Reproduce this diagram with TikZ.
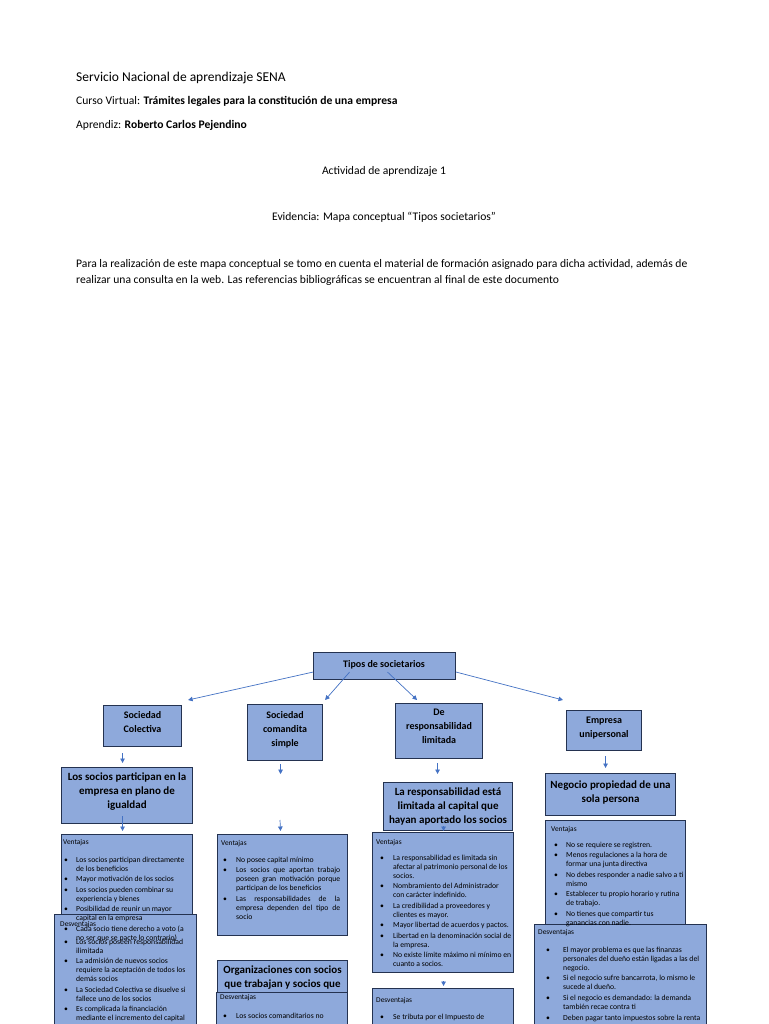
\documentclass[tikz,border=0pt]{standalone}
\usepackage{fontspec}
\setmainfont{Carlito}
\usetikzlibrary{calc,arrows.meta}
\definecolor{boxfill}{HTML}{8EA9DB}
\definecolor{boxline}{HTML}{243250}
\definecolor{arrowblue}{HTML}{4472C4}
\newcommand{\blist}[2]{\begin{tabular}[t]{@{}p{#1}@{}l@{}}#2\end{tabular}}
\newcommand{\J}[1]{\makebox[104pt][s]{#1}}
\tikzset{
  box/.style={draw=boxline, fill=boxfill, line width=1.1pt, rectangle, inner sep=0pt, anchor=north west},
  ttl/.style={font=\bfseries\fontsize{10}{14}\selectfont, align=center, anchor=north, inner sep=0pt},
  ttlb/.style={font=\bfseries\fontsize{11}{14}\selectfont, align=center, anchor=north, inner sep=0pt},
  lst/.style={font=\fontsize{7.7}{9}\selectfont, anchor=base west, inner sep=0pt},
  lbl/.style={font=\fontsize{7.4}{9}\selectfont, anchor=base west, inner sep=0pt},
  arr/.style={draw=arrowblue, line width=0.7pt, -{Triangle[length=4.5pt,width=4.5pt]}},
  hdrA/.style={font=\fontsize{13.5}{16}\selectfont, anchor=base west, inner sep=0pt},
  hdr/.style={font=\fontsize{11.6}{16.5}\selectfont, inner sep=0pt},
}
\begin{document}
\begin{tikzpicture}[x=1pt,y=-1pt]
\clip (0,0) rectangle (768,1024);
\fill[white] (0,0) rectangle (768,1024);

% header
\node[hdrA] (h1) at (76,81.5) {Servicio Nacional de aprendizaje SENA};
\node[hdr, anchor=base west] (h2) at (76,105) {Curso Virtual: \textbf{Trámites legales para la constitución de una empresa}};
\node[hdr, anchor=base west] (h3) at (76,129) {Aprendiz: \textbf{Roberto Carlos Pejendino}};
\node[hdr, anchor=base] (h4) at (384,175) {Actividad de aprendizaje 1};
\node[hdr, anchor=base] (h5) at (384,221) {Evidencia: Mapa conceptual “Tipos societarios”};
\node[hdr, anchor=base west] (p1) at (76,267) {Para la realización de este mapa conceptual se tomo en cuenta el material de formación asignado para dicha actividad, además de};
\node[hdr, anchor=base west] (p2) at (76,283) {realizar una consulta en la web. Las referencias bibliográficas se encuentran al final de este documento};

% level 0 and 1 boxes
\node[box, minimum width=142pt, minimum height=27pt] (top) at (313,652) {};
\node[ttl, anchor=center] at (384,664.5) {Tipos de societarios};

\node[box, minimum width=78pt, minimum height=41pt] (sc) at (103,705) {};
\node[ttl] at (sc.north |- 0,711.5) {Sociedad\\Colectiva};
\node[box, minimum width=75pt, minimum height=56pt] (scs) at (247,704) {};
\node[ttl] at (scs.north |- 0,711.5) {Sociedad\\comandita\\simple};
\node[box, minimum width=87pt, minimum height=55pt] (drl) at (395,703) {};
\node[ttl] at (drl.north |- 0,708.5) {De\\responsabilidad\\limitada};
\node[box, minimum width=75pt, minimum height=40pt] (eu) at (566,710) {};
\node[ttl] at (eu.north |- 0,716.5) {Empresa\\unipersonal};

% level 2 boxes
\node[box, minimum width=131pt, minimum height=56pt] (lsp) at (61,767) {};
\node[ttlb] at (lsp.north |- 0,772.5) {Los socios participan en la\\empresa en plano de\\igualdad};
\node[box, minimum width=129pt, minimum height=48pt] (lr) at (383,782) {};
\node[ttlb] at (lr.north |- 0,787.5) {La responsabilidad está\\limitada al capital que\\hayan aportado los socios};
\node[box, minimum width=130pt, minimum height=42pt] (np) at (545,773) {};
\node[ttlb] at (np.north |- 0,780.5) {Negocio propiedad de una\\sola persona};

% column 1 lists
\node[box, minimum width=131pt, minimum height=90pt] (v1) at (61,834) {};
\node[box, minimum width=142pt, minimum height=130pt] (d1) at (54,914) {};
\node[lbl] (v1l) at (63,844.5) {Ventajas};
\node[lst] (v1t) at (64,862) {\blist{12pt}{%
\textbullet & Los socios participan directamente\\ & de los beneficios\\[1.5pt]
\textbullet & Mayor motivación de los socios\\[1.5pt]
\textbullet & Los socios pueden combinar su\\ & experiencia y bienes\\[1.5pt]
\textbullet & Posibilidad de reunir un mayor\\ & capital en la empresa\\[1.5pt]
\textbullet & Cada socio tiene derecho a voto (a\\ & no ser que se pacte lo contrario)}};
\node[lbl] (d1l) at (60,926) {Desventajas};
\node[lst] (d1t) at (64,944.3) {\blist{12pt}{%
\textbullet & Los socios poseen responsabilidad\\ & ilimitada\\[1.5pt]
\textbullet & La admisión de nuevos socios\\ & requiere la aceptación de todos los\\ & demás socios\\[1.5pt]
\textbullet & La Sociedad Colectiva se disuelve si\\ & fallece uno de los socios\\[1.5pt]
\textbullet & Es complicada la financiación\\ & mediante el incremento del capital}};

% column 2 lists
\node[box, minimum width=130pt, minimum height=101pt] (v2) at (217,834) {};
\node[lbl] (v2l) at (221,845) {Ventajas};
\node[lst] (v2t) at (223,862) {\blist{13pt}{%
\textbullet & No posee capital mínimo\\[1.5pt]
\textbullet & \J{Los socios que aportan trabajo}\\ & \J{poseen gran motivación porque}\\ & participan de los beneficios\\[1.5pt]
\textbullet & \J{Las responsabilidades de la}\\ & \J{empresa dependen del tipo de}\\ & socio}};
\node[box, minimum width=130pt, minimum height=33pt] (org) at (217,960) {};
\node[ttlb] at (org.north |- 0,966) {Organizaciones con socios\\que trabajan y socios que};
\node[box, minimum width=131pt, minimum height=60pt] (d2) at (216,992) {};
\node[lbl] (d2l) at (220,999.5) {Desventajas};
\node[lst] (d2t) at (223,1018) {\blist{13pt}{\textbullet & Los socios comanditarios no}};

% column 3 lists
\node[box, minimum width=141pt, minimum height=140pt] (v3) at (372,832) {};
\node[lbl] (v3l) at (376,844) {Ventajas};
\node[lst] (v3t) at (380,860) {\blist{13pt}{%
\textbullet & La responsabilidad es limitada sin\\ & afectar al patrimonio personal de los\\ & socios.\\[1.5pt]
\textbullet & Nombramiento del Administrador\\ & con carácter indefinido.\\[1.5pt]
\textbullet & La credibilidad a proveedores y\\ & clientes es mayor.\\[1.5pt]
\textbullet & Mayor libertad de acuerdos y pactos.\\[1.5pt]
\textbullet & Libertad en la denominación social de\\ & la empresa.\\[1.5pt]
\textbullet & No existe límite máximo ni mínimo en\\ & cuanto a socios.}};
\node[box, minimum width=141pt, minimum height=60pt] (d3) at (372,988) {};
\node[lbl] (d3l) at (376,1002) {Desventajas};
\node[lst] (d3t) at (380,1019) {\blist{13pt}{\textbullet & Se tributa por el Impuesto de}};

% column 4 lists
\node[box, minimum width=140pt, minimum height=108pt] (v4) at (545,820) {};
\node[box, minimum width=172pt, minimum height=120pt] (d4) at (534,924) {};
\node[lbl] (v4l) at (551,831) {Ventajas};
\node[lst] (v4t) at (554,847) {\blist{12pt}{%
\textbullet & No se requiere se registren.\\[1.5pt]
\textbullet & Menos regulaciones a la hora de\\ & formar una junta directiva\\[1.5pt]
\textbullet & No debes responder a nadie salvo a ti\\ & mismo\\[1.5pt]
\textbullet & Establecer tu propio horario y rutina\\ & de trabajo.\\[1.5pt]
\textbullet & No tienes que compartir tus\\ & ganancias con nadie.}};
\node[lbl] (d4l) at (538,934.5) {Desventajas};
\node[lst] (d4t) at (546,952) {\blist{17pt}{%
\textbullet & El mayor problema es que las finanzas\\ & personales del dueño están ligadas a las del\\ & negocio.\\[1.8pt]
\textbullet & Si el negocio sufre bancarrota, lo mismo le\\ & sucede al dueño.\\[1.8pt]
\textbullet & Si el negocio es demandado: la demanda\\ & también recae contra ti\\[1.8pt]
\textbullet & Deben pagar tanto impuestos sobre la renta}};

% connectors from top
\draw[arr] ($(top.west)+(0,6)$) -- ($(sc.north east)+(6,-5)$);
\draw[arr] ($(top.south)+(-35,-8)$) -- ($(scs.north east)+(2,-4)$);
\draw[arr] ($(top.south)+(3,-8)$) -- ($(drl.north)+(-22,-3)$);
\draw[arr] ($(top.east)+(0,6)$) -- ($(eu.north west)+(-3,-10)$);

% vertical connectors
\draw[arr] ($(sc.south)+(-20,6)$) -- ($(lsp.north)+(-4.5,-4)$);
\draw[arr] ($(lsp.south)+(-4.5,-8)$) -- ($(v1.north)+(-4.5,-3)$);
\coordinate (c2a) at ($(scs.south)+(-4.5,3)$);
\draw[arr] (c2a) -- ($(scs.south)+(-4.5,13)$);
\coordinate (c2c) at (280,820);
\draw[arr] (c2c) -- ($(v2.north)+(-2,-3)$);
\draw[arr] ($(drl.south)+(-1.5,4)$) -- ($(lr.north)+(-10.5,-8)$);
\draw[arr] ($(lr.south)+(-4.5,-5)$) -- ($(v3.north)+(0.5,-1)$);
\draw[arr] ($(v3.south)+(0.5,8)$) -- ($(d3.north)+(0.5,-2)$);
\draw[arr] ($(eu.south)+(1.5,5)$) -- ($(np.north)+(-5,-5)$);
\end{tikzpicture}
\end{document}
